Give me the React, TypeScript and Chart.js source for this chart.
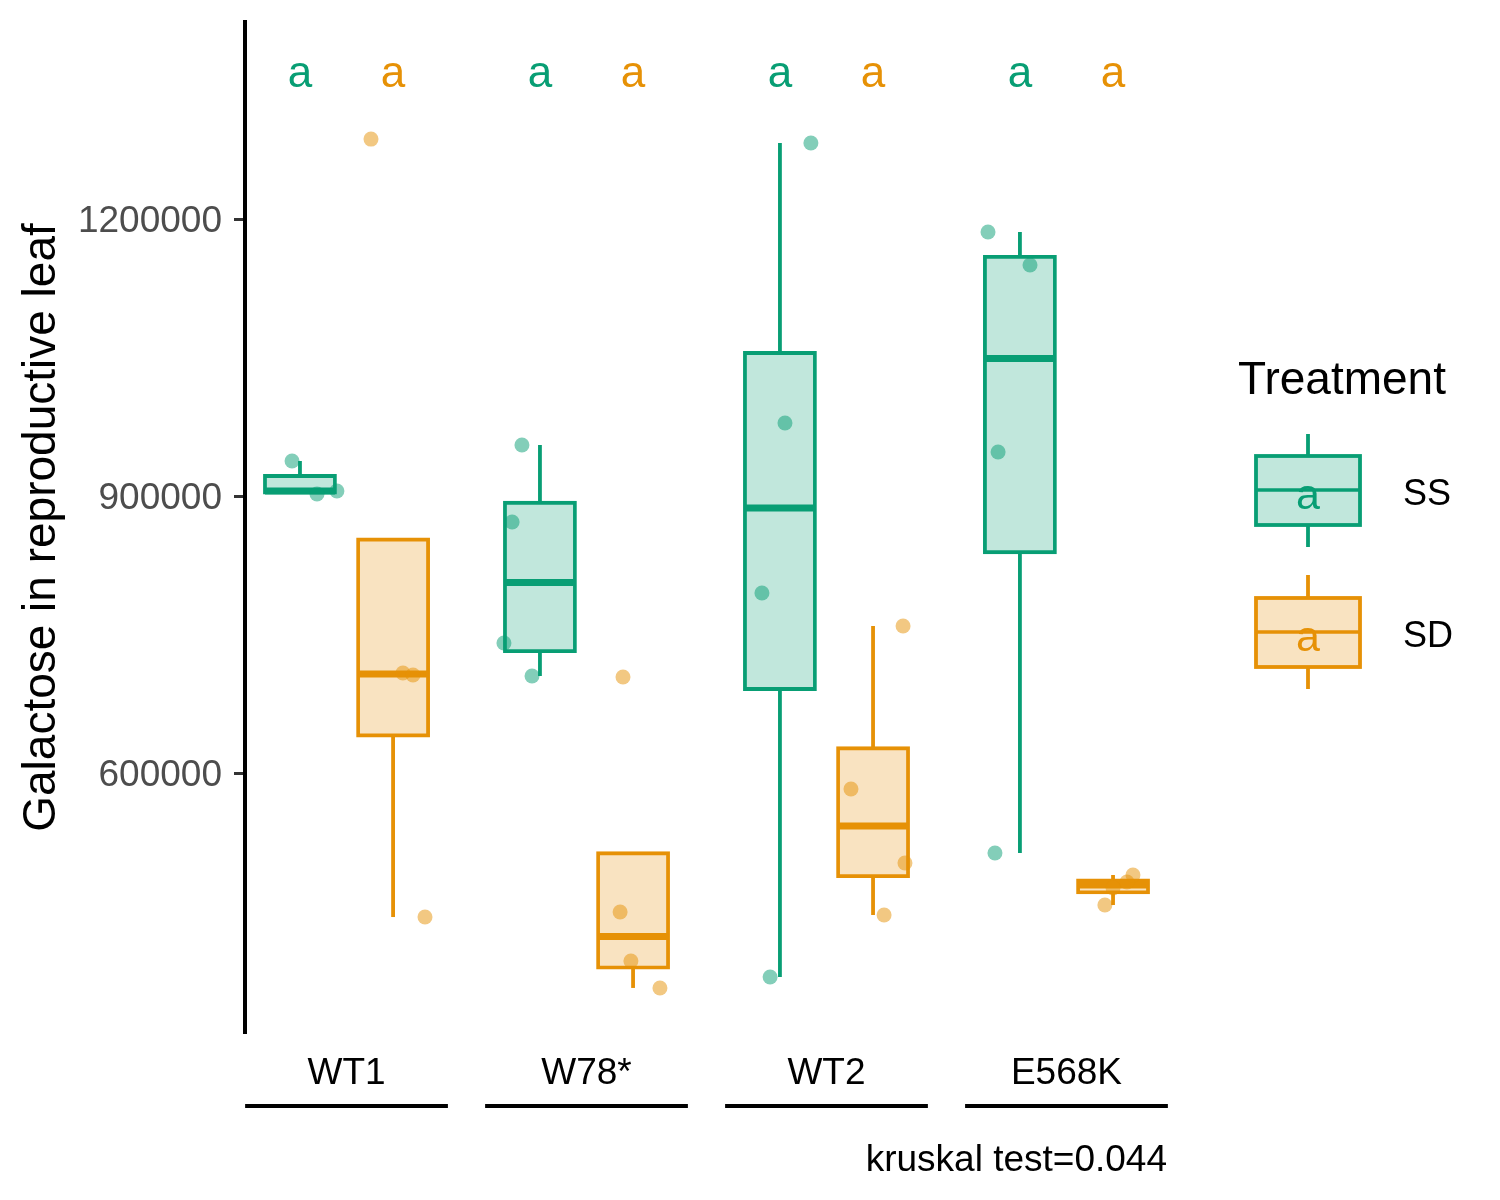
import React, { useEffect, useRef } from "react";
import { Chart, registerables } from "chart.js";

Chart.register(...registerables);

// ---------- data ----------
const categories = ["WT1", "W78*", "WT2", "E568K"];
const treatments = ["SS", "SD"];
const yTicks = [600000, 900000, 1200000];
const yMin = 318400;
const yMax = 1413400;
const xMin = -0.423;
const xMax = 3.423;
const dodge = 0.194;

// box statistics
const ssLow = [902200, 705100, 379100, 513400];
const ssQ1 = [903800, 731900, 691000, 839100];
const ssMed = [905400, 806300, 887000, 1048900];
const ssQ3 = [921700, 892700, 1054900, 1159100];
const ssHigh = [937900, 955200, 1282300, 1185900];

const sdLow = [444000, 367200, 446200, 457000];
const sdQ1 = [640600, 389100, 488400, 470800];
const sdMed = [707200, 422900, 542600, 478700];
const sdQ3 = [852900, 513100, 626800, 483800];
const sdHigh = [852900, 513100, 759200, 489500];

// jittered observations: value and horizontal offset from the category centre
const ssPointsY = [
  [937900, 902200, 905400],
  [955200, 871800, 740800, 705100],
  [1282300, 979100, 794900, 379100],
  [1185900, 1150200, 947700, 513400],
];
const ssPointsX = [
  [-0.227, -0.123, -0.04],
  [-0.269, -0.31, -0.344, -0.227],
  [-0.065, -0.173, -0.269, -0.235],
  [-0.327, -0.152, -0.285, -0.298],
];
const sdPointsY = [
  [1286600, 708300, 706100, 444000],
  [704000, 449500, 396400, 367200],
  [759200, 582700, 502500, 446200],
  [489500, 482000, 475500, 457000],
];
const sdPointsX = [
  [0.102, 0.235, 0.277, 0.327],
  [0.152, 0.14, 0.185, 0.306],
  [0.319, 0.102, 0.327, 0.24],
  [0.277, 0.252, 0.194, 0.16],
];

const letterY = 1355700;
const ssLetters = ["a", "a", "a", "a"];
const sdLetters = ["a", "a", "a", "a"];
const yTitle = "Galactose in reproductive leaf";
const legendTitle = "Treatment";
const kruskalLabel = "kruskal test=0.044";

// ---------- styles ----------
const FONT = "'Liberation Sans', Arial, sans-serif";
const SS_STROKE = "#089E74";
const SS_FILL = "#C1E7DC";
const SS_POINT = "rgba(8,158,116,0.5)";
const SD_STROKE = "#E69106";
const SD_FILL = "#F9E3C1";
const SD_POINT = "rgba(230,145,6,0.5)";

const groups = [
  { name: treatments[0], off: -dodge, stroke: SS_STROKE, fill: SS_FILL, low: ssLow, q1: ssQ1, med: ssMed, q3: ssQ3, high: ssHigh, letters: ssLetters, barIndex: 0 },
  { name: treatments[1], off: dodge, stroke: SD_STROKE, fill: SD_FILL, low: sdLow, q1: sdQ1, med: sdMed, q3: sdQ3, high: sdHigh, letters: sdLetters, barIndex: 1 },
];

const boxPlugin = {
  id: "boxExtras",
  beforeDatasetsDraw(chart: any) {
    const { ctx, scales } = chart;
    const x = scales.x;
    const y = scales.y;
    ctx.save();
    ctx.lineWidth = 3.8;
    ctx.lineCap = "butt";
    groups.forEach((g) => {
      ctx.strokeStyle = g.stroke;
      categories.forEach((_, i) => {
        const cx = x.getPixelForValue(i + g.off);
        ctx.beginPath();
        ctx.moveTo(cx, y.getPixelForValue(g.q3[i]));
        ctx.lineTo(cx, y.getPixelForValue(g.high[i]));
        ctx.moveTo(cx, y.getPixelForValue(g.q1[i]));
        ctx.lineTo(cx, y.getPixelForValue(g.low[i]));
        ctx.stroke();
      });
    });
    ctx.restore();
  },
  afterDatasetDraw(chart: any, args: any) {
    const g = groups.find((gr) => gr.barIndex === args.index);
    if (!g) return;
    const { ctx, scales } = chart;
    const y = scales.y;
    ctx.save();
    ctx.strokeStyle = g.stroke;
    ctx.lineWidth = 7;
    args.meta.data.forEach((bar: any, i: number) => {
      const half = bar.width / 2;
      const py = y.getPixelForValue(g.med[i]);
      ctx.beginPath();
      ctx.moveTo(bar.x - half, py);
      ctx.lineTo(bar.x + half, py);
      ctx.stroke();
    });
    ctx.restore();
  },
  afterDraw(chart: any) {
    const { ctx, scales } = chart;
    const x = scales.x;
    const y = scales.y;
    ctx.save();
    // significance letters
    ctx.font = `44px ${FONT}`;
    ctx.textAlign = "center";
    ctx.textBaseline = "middle";
    groups.forEach((g) => {
      ctx.fillStyle = g.stroke;
      categories.forEach((_, i) => {
        ctx.fillText(g.letters[i], x.getPixelForValue(i + g.off), y.getPixelForValue(letterY));
      });
    });
    // category underlines
    ctx.strokeStyle = "#000";
    ctx.lineWidth = 4;
    categories.forEach((_, i) => {
      ctx.beginPath();
      ctx.moveTo(x.getPixelForValue(i - 0.4225), 1106);
      ctx.lineTo(x.getPixelForValue(i + 0.4225), 1106);
      ctx.stroke();
    });
    // caption
    ctx.fillStyle = "#000";
    ctx.font = `37px ${FONT}`;
    ctx.textAlign = "right";
    ctx.textBaseline = "alphabetic";
    ctx.fillText(kruskalLabel, x.getPixelForValue(xMax) - 1, 1171);

    // legend
    ctx.textAlign = "left";
    ctx.font = `46px ${FONT}`;
    ctx.fillText(legendTitle, 1238, 394);
    const keys = [
      { g: groups[0], top: 456, bottom: 525, med: 490, wTop: 434, wBot: 547, label: 505 },
      { g: groups[1], top: 598, bottom: 667, med: 632, wTop: 575, wBot: 689, label: 647 },
    ];
    keys.forEach((k) => {
      const cx = 1308;
      ctx.strokeStyle = k.g.stroke;
      ctx.lineWidth = 3.8;
      ctx.beginPath();
      ctx.moveTo(cx, k.wTop);
      ctx.lineTo(cx, k.top);
      ctx.moveTo(cx, k.bottom);
      ctx.lineTo(cx, k.wBot);
      ctx.stroke();
      ctx.fillStyle = k.g.fill;
      ctx.fillRect(1256, k.top, 104, k.bottom - k.top);
      ctx.strokeRect(1256, k.top, 104, k.bottom - k.top);
      ctx.lineWidth = 3.5;
      ctx.beginPath();
      ctx.moveTo(1256, k.med);
      ctx.lineTo(1360, k.med);
      ctx.stroke();
      ctx.fillStyle = k.g.stroke;
      ctx.font = `43px ${FONT}`;
      ctx.textAlign = "center";
      ctx.fillText("a", cx, k.med + 19);
      ctx.fillStyle = "#000";
      ctx.font = `36px ${FONT}`;
      ctx.textAlign = "left";
      ctx.fillText(k.g.name, 1403, k.label);
    });
    ctx.restore();
  },
};

export default function App() {
  const canvasRef = useRef<HTMLCanvasElement | null>(null);

  useEffect(() => {
    document.body.style.margin = "0";
    const canvas = canvasRef.current;
    if (!canvas) return;

    const barSets = groups.map((g) => ({
      type: "bar" as const,
      label: g.name,
      data: categories.map((_, i) => ({ x: i + g.off, y: [g.q1[i], g.q3[i]] })),
      backgroundColor: g.fill,
      borderColor: g.stroke,
      borderWidth: 3.8,
      borderSkipped: false,
      inflateAmount: 1.9,
      barThickness: 70,
      grouped: false,
      order: 2,
    }));
    const pointSets = [
      { name: treatments[0], ys: ssPointsY, xs: ssPointsX, color: SS_POINT },
      { name: treatments[1], ys: sdPointsY, xs: sdPointsX, color: SD_POINT },
    ].map((p) => ({
      type: "scatter" as const,
      label: p.name + " points",
      data: p.ys.flatMap((arr, i) => arr.map((v, j) => ({ x: i + p.xs[i][j], y: v }))),
      backgroundColor: p.color,
      borderWidth: 0,
      pointRadius: 7.5,
      showLine: false,
      order: 0,
    }));

    const chart = new Chart(canvas, {
      type: "bar",
      data: { datasets: [...barSets, ...pointSets] as any },
      options: {
        animation: false,
        responsive: false,
        events: [],
        layout: { padding: { left: 0, top: 22, right: 332, bottom: 0 } },
        plugins: { legend: { display: false }, tooltip: { enabled: false } },
        scales: {
          x: {
            type: "linear",
            offset: false,
            min: xMin,
            max: xMax,
            grid: { display: false, drawTicks: false },
            border: { display: false },
            afterBuildTicks: (s: any) => {
              s.ticks = categories.map((_, i) => ({ value: i }));
            },
            afterFit: (s: any) => {
              s.height = 167;
              s.paddingLeft = 0;
              s.paddingRight = 0;
            },
            ticks: {
              autoSkip: false,
              maxRotation: 0,
              minRotation: 0,
              padding: 19,
              color: "#000",
              font: { family: FONT, size: 37 },
              callback: (v: any) => categories[Math.round(Number(v))] ?? "",
            },
          },
          y: {
            type: "linear",
            min: yMin,
            max: yMax,
            grid: { display: true, drawOnChartArea: false, drawTicks: true, tickLength: 11, tickWidth: 3, tickColor: "#333333" },
            border: { display: true, color: "#000", width: 4 },
            afterBuildTicks: (s: any) => {
              s.ticks = yTicks.map((v) => ({ value: v }));
            },
            afterFit: (s: any) => {
              s.width = 245;
              s.paddingTop = 0;
              s.paddingBottom = 0;
            },
            ticks: {
              padding: 12,
              labelOffset: 3,
              color: "#4D4D4D",
              font: { family: FONT, size: 37 },
              callback: (v: any) => String(v),
            },
            title: {
              display: true,
              text: yTitle,
              color: "#000",
              font: { family: FONT, size: 46 },
              padding: { top: 15, bottom: 0 },
            },
          },
        },
      } as any,
      plugins: [boxPlugin],
    });
    return () => chart.destroy();
  }, []);

  return (
    <div style={{ width: 1500, height: 1200, background: "#fff" }}>
      <canvas ref={canvasRef} width={1500} height={1200} />
    </div>
  );
}
